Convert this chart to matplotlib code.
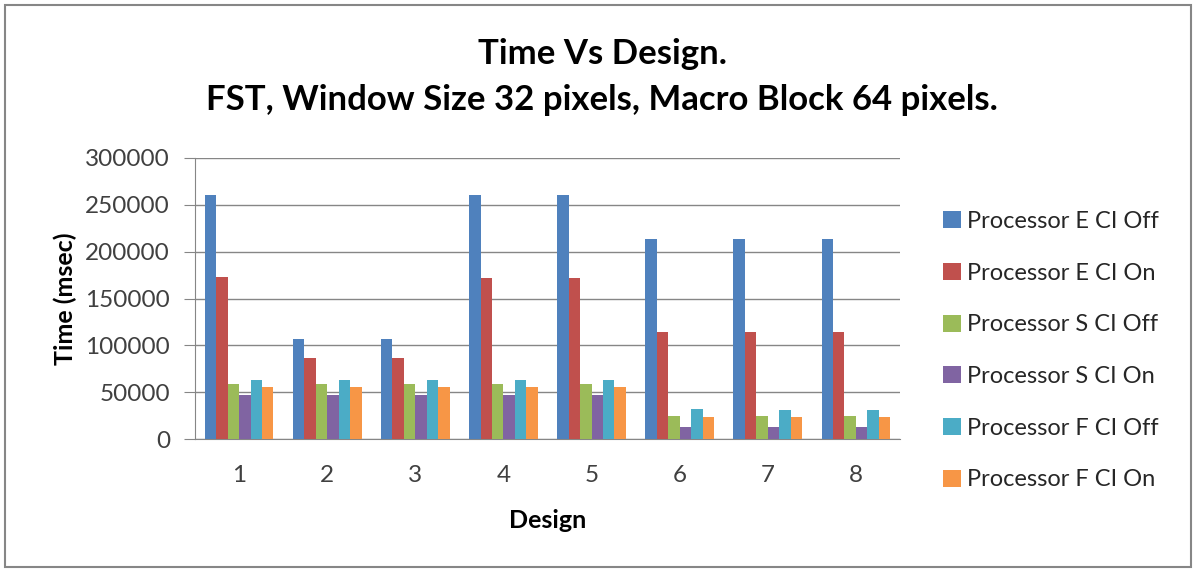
import numpy as np
import matplotlib.pyplot as plt
from matplotlib.patches import Rectangle

plt.rcParams["font.family"] = ["Lato", "DejaVu Sans"]

designs = [1, 2, 3, 4, 5, 6, 7, 8]
series_names = [
    "Processor E CI Off",
    "Processor E CI On",
    "Processor S CI Off",
    "Processor S CI On",
    "Processor F CI Off",
    "Processor F CI On",
]
e_ci_off = [260000, 107000, 107000, 260000, 260000, 214000, 214000, 214000]
e_ci_on = [173000, 86000, 86000, 172000, 172000, 114500, 114500, 114500]
s_ci_off = [59000, 59000, 59000, 59000, 59000, 24500, 24500, 24500]
s_ci_on = [47500, 47500, 47500, 47500, 47500, 13000, 13000, 13000]
f_ci_off = [63000, 63000, 63000, 63000, 63000, 31500, 30500, 30500]
f_ci_on = [56000, 56000, 56000, 56000, 56000, 23000, 23000, 23000]
colors = ["#4F81BD", "#C0504D", "#9BBB59", "#8064A2", "#4BACC6", "#F79646"]

all_series = [e_ci_off, e_ci_on, s_ci_off, s_ci_on, f_ci_off, f_ci_on]

W, H = 1200, 573
fig = plt.figure(figsize=(12, 5.73), dpi=100)
ax = fig.add_axes([195 / W, 1 - 439 / H, 705 / W, 281 / H])

x = np.arange(1, len(designs) + 1)
w = 0.13
for i, (vals, name, c) in enumerate(zip(all_series, series_names, colors)):
    ax.bar(x + (i - 2.5) * w, vals, width=w, color=c, label=name, zorder=3)

ax.set_xlim(0.5, 8.5)
ax.set_ylim(0, 300000)
ax.set_yticks(np.arange(0, 300001, 50000))
ax.set_xticks(x)
ax.set_xticklabels([str(d) for d in designs])
ax.yaxis.grid(True, color="#868686", linewidth=1, zorder=0)
for s in ["top", "right"]:
    ax.spines[s].set_visible(False)
for s in ["left", "bottom"]:
    ax.spines[s].set_color("#868686")
ax.tick_params(axis="y", colors="#868686", labelcolor="#404040", labelsize=17.5,
               length=8, pad=10)
ax.tick_params(axis="x", length=0, labelcolor="#404040", labelsize=17.5, pad=19)

ax.set_ylabel("Time (msec)", fontsize=18, fontweight="bold", labelpad=6)
ax.set_xlabel("Design", fontsize=18, fontweight="bold", labelpad=16)

fig.text(602 / W, 1 - 64 / H, "Time Vs Design.", ha="center", va="baseline",
         fontsize=25, fontweight="bold")
fig.text(602 / W, 1 - 110 / H, "FST, Window Size 32 pixels, Macro Block 64 pixels.",
         ha="center", va="baseline", fontsize=25, fontweight="bold")

leg = ax.legend(loc="upper left", bbox_to_anchor=(943 / W, 1 - 211 / H),
                bbox_transform=fig.transFigure, frameon=False,
                fontsize=17, handlelength=0.75, handleheight=0.75,
                handletextpad=0.25, labelspacing=1.3, borderpad=0,
                borderaxespad=0)
for t in leg.get_texts():
    t.set_color("#262626")

fig.patches.append(Rectangle((5 / W, 1 - 567 / H), 1186 / W, 562 / H,
                             transform=fig.transFigure, fill=False,
                             edgecolor="#868686", linewidth=1.5))

fig.savefig("out.png", dpi=100)
